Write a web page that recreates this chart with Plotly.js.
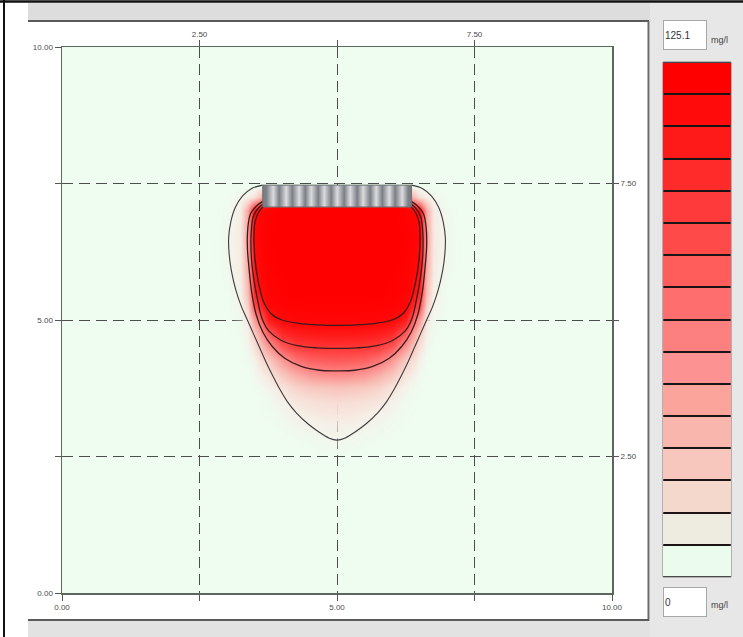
<!DOCTYPE html>
<html>
<head>
<meta charset="utf-8">
<script src="https://cdn.plot.ly/plotly-3.0.1.min.js"></script>
<style>
  html, body { margin: 0; padding: 0; background: #ffffff; }
  #plot { width: 743px; height: 637px; }
</style>
</head>
<body>
<div id="plot"></div>
<script>
// ---------------------------------------------------------------------------
// Concentration field (mg/l). The plume is symmetric about x = 5, so each row
// lists values from the plume axis outward at the offsets below.
// ---------------------------------------------------------------------------
const plumeAxis = 5;
const offsets = [0, 0.25, 0.5, 0.75, 1.0, 1.25, 1.5, 1.625, 1.75, 2.0, 2.25];
const rowY = [2.5, 2.75, 3.0, 3.25, 3.5, 3.75, 4.0, 4.25, 4.5, 4.75, 5.0, 5.25, 5.5, 6.0, 6.5, 7.0, 7.25, 7.45];
const conc_y2_50 = [0, 0, 0, 0, 0, 0, 0, 0, 0, 0, 0];
const conc_y2_75 = [2.5, 2, 1, 0, 0, 0, 0, 0, 0, 0, 0];
const conc_y3_00 = [5, 4.5, 3.5, 2.5, 1, 0, 0, 0, 0, 0, 0];
const conc_y3_25 = [9, 8.5, 7, 5, 2.5, 0.5, 0, 0, 0, 0, 0];
const conc_y3_50 = [16, 15, 13, 10, 5, 1.5, 0, 0, 0, 0, 0];
const conc_y3_75 = [28, 27, 25, 20, 12, 4, 0.5, 0, 0, 0, 0];
const conc_y4_00 = [52, 51, 47, 38, 26, 11, 2, 0, 0, 0, 0];
const conc_y4_25 = [72, 71, 69, 62, 46, 24, 5, 1, 0, 0, 0];
const conc_y4_50 = [86, 86, 85, 82, 72, 46, 12, 3, 0, 0, 0];
const conc_y4_75 = [100, 100, 99, 97, 92, 72, 24, 5, 1, 0, 0];
const conc_y5_00 = [114, 114, 113, 112, 108, 98, 46, 9, 2, 0, 0];
const conc_y5_25 = [121, 121, 121, 120, 118, 110, 78, 20, 4, 0, 0];
const conc_y5_50 = [125, 125, 125, 125, 123, 118, 95, 30, 6, 0, 0];
const conc_y6_00 = [125, 125, 125, 125, 125, 123, 106, 40, 8, 2, 0];
const conc_y6_50 = [125, 125, 125, 125, 125, 124, 112, 45, 9, 2, 0];
const conc_y7_00 = [125, 125, 125, 125, 125, 122, 108, 40, 8, 1, 0];
const conc_y7_25 = [125, 125, 125, 125, 125, 60, 12, 6, 3, 0, 0];
const conc_y7_45 = [0, 0, 0, 0, 0, 0, 0, 0, 0, 0, 0];
const concRows = [conc_y2_50, conc_y2_75, conc_y3_00, conc_y3_25, conc_y3_50, conc_y3_75,
  conc_y4_00, conc_y4_25, conc_y4_50, conc_y4_75, conc_y5_00, conc_y5_25, conc_y5_50,
  conc_y6_00, conc_y6_50, conc_y7_00, conc_y7_25, conc_y7_45];

// Isolines, left half from the source down to the plume axis
const iso1X = [3.65, 3.45, 3.28, 3.15, 3.07, 3.03, 3.04, 3.08, 3.16, 3.26, 3.37, 3.48, 3.59, 3.70, 3.82, 3.95, 4.10, 4.26, 4.47, 4.67, 4.85, 5.00];
const iso1Y = [7.47, 7.41, 7.27, 7.06, 6.80, 6.50, 6.20, 5.90, 5.55, 5.25, 5.00, 4.75, 4.50, 4.25, 4.00, 3.75, 3.50, 3.30, 3.10, 2.95, 2.84, 2.80];
const iso2X = [3.70, 3.55, 3.43, 3.38, 3.37, 3.40, 3.45, 3.53, 3.65, 3.82, 4.05, 4.35, 4.68, 5.00];
const iso2Y = [7.20, 7.10, 6.95, 6.70, 6.35, 5.95, 5.50, 5.10, 4.78, 4.52, 4.30, 4.15, 4.08, 4.07];
const iso3X = [3.70, 3.58, 3.48, 3.44, 3.44, 3.48, 3.55, 3.64, 3.76, 3.98, 4.28, 4.64, 5.00];
const iso3Y = [7.15, 7.06, 6.90, 6.60, 6.20, 5.80, 5.40, 5.02, 4.80, 4.63, 4.53, 4.49, 4.48];
const iso4X = [3.70, 3.59, 3.51, 3.49, 3.51, 3.57, 3.66, 3.80, 4.00, 4.30, 4.65, 5.00];
const iso4Y = [7.10, 7.00, 6.80, 6.50, 6.10, 5.70, 5.35, 5.12, 5.00, 4.94, 4.91, 4.90];

// Source strip
const sourceX = [3.65, 6.35];
const sourceY = [7.07, 7.47];

// Axis labels
const bottomTicks = [0, 2.5, 5, 7.5, 10];
const bottomLabels = ['0.00', '', '5.00', '', '10.00'];
const topTicks = [2.5, 5, 7.5];
const topLabels = ['2.50', '', '7.50'];

// Legend: colour classes, top (max) to bottom (min)
const legendMax = 125.1;
const legendMin = 0;
const legendUnit = 'mg/l';
const bandColors = ['#ff0000', '#ff0b0b', '#ff1a1a', '#ff2a2a', '#ff3a3a', '#ff4a4a', '#ff5c5c', '#fe6e6e',
  '#fd8080', '#fc9292', '#fba49c', '#f9b6ac', '#f7c6bc', '#f4d8cc', '#eeece0', '#ebfbee'];

// ---------------------------------------------------------------------------
const W = 743, H = 637;
const px = v => v / W;
const py = v => 1 - v / H;

const mirrorX = xs => xs.map(x => 2 * plumeAxis - x);
const fieldX = mirrorX(offsets.map(d => plumeAxis + d)).reverse()
  .concat(offsets.slice(1).map(d => plumeAxis + d));
const fieldZ = concRows.map(r => r.slice().reverse().concat(r.slice(1)));

function closedIso(xs, ys) {
  return {
    x: xs.concat(mirrorX(xs.slice(0, -1)).reverse()),
    y: ys.concat(ys.slice(0, -1).reverse())
  };
}

const fieldScale = [
  [0.00, 'rgba(244,240,234,0)'],
  [0.03, 'rgba(246,238,232,0.6)'],
  [0.08, 'rgba(247,228,220,0.92)'],
  [0.16, '#f7d4cc'],
  [0.28, '#f9b6ae'],
  [0.40, '#fb9290'],
  [0.52, '#fd6e6e'],
  [0.64, '#ff4646'],
  [0.76, '#ff2222'],
  [0.86, '#ff0a0a'],
  [1.00, '#ff0000']
];

const traces = [];

traces.push({
  type: 'heatmap', x: fieldX, y: rowY, z: fieldZ,
  zsmooth: 'best', zmin: legendMin, zmax: legendMax,
  colorscale: fieldScale, showscale: false, hoverinfo: 'skip'
});

const isoStyles = [
  { xs: iso1X, ys: iso1Y, color: '#3c3c3c', width: 1.1 },
  { xs: iso2X, ys: iso2Y, color: '#3a1c1c', width: 1.3 },
  { xs: iso3X, ys: iso3Y, color: '#3a1c1c', width: 1.3 },
  { xs: iso4X, ys: iso4Y, color: '#3a1c1c', width: 1.3 }
];
isoStyles.forEach(s => {
  const c = closedIso(s.xs, s.ys);
  traces.push({
    type: 'scatter', mode: 'lines', x: c.x, y: c.y,
    line: { color: s.color, width: s.width, shape: 'spline', smoothing: 1 },
    hoverinfo: 'skip', showlegend: false
  });
});

// Striped source block (drawn in the overlay subplot so it sits on top)
const stripeCells = 23;
const sw = (sourceX[1] - sourceX[0]) / stripeCells;
const stripeX = [];
const stripeRow = [];
for (let k = 0; k < stripeCells; k++) {
  stripeX.push(sourceX[0] + (k + 0.5) * sw);
  stripeRow.push(k % 2 ? 1 : 0);
}
const sh = (sourceY[1] - sourceY[0]) / 2;
traces.push({
  type: 'heatmap', x: stripeX, y: [sourceY[0] + sh / 2, sourceY[0] + 1.5 * sh],
  z: [stripeRow, stripeRow], zsmooth: 'best', zmin: 0, zmax: 1,
  colorscale: [[0, '#7b7f86'], [1, '#dcdcdf']], showscale: false,
  xaxis: 'x3', yaxis: 'y3', hoverinfo: 'skip'
});

// Legend bar
const bandsBottomUp = bandColors.slice().reverse();
const nb = bandsBottomUp.length;
const bandScale = [];
bandsBottomUp.forEach((c, i) => { bandScale.push([i / nb, c]); bandScale.push([(i + 1) / nb, c]); });
traces.push({
  type: 'heatmap', x: [0], y: bandsBottomUp.map((c, i) => i),
  z: bandsBottomUp.map((c, i) => [i + 0.5]), zmin: 0, zmax: nb,
  colorscale: bandScale, showscale: false, ygap: 2,
  xaxis: 'x2', yaxis: 'y2', hoverinfo: 'skip'
});

const tickFont = { family: 'Liberation Sans Narrow, Arial Narrow, sans-serif', size: 8, color: '#4a4a4a' };
const gridStyle = { showgrid: true, gridcolor: '#4d4d4d', gridwidth: 1, griddash: '11px,6px' };
const plotDomX = [px(62), px(612)];
const plotDomY = [py(593), py(47)];

const rectPx = (x0, y0, x1, y1, fill, layer) => ({
  type: 'rect', xref: 'paper', yref: 'paper', x0: px(x0), x1: px(x1), y0: py(y1), y1: py(y0),
  fillcolor: fill, line: { width: 0 }, layer: layer || 'below'
});
const linePx = (x0, y0, x1, y1, color, width) => ({
  type: 'line', xref: 'paper', yref: 'paper', x0: px(x0), x1: px(x1), y0: py(y0), y1: py(y1),
  line: { color: color, width: width }, layer: 'above'
});

const layout = {
  width: W, height: H,
  margin: { l: 0, r: 0, t: 0, b: 0 },
  paper_bgcolor: '#ffffff',
  plot_bgcolor: '#effdf0',
  showlegend: false,
  xaxis: Object.assign({
    domain: plotDomX, range: [0, 10], anchor: 'y', zeroline: false,
    showline: true, linecolor: '#5c665c', linewidth: 1.5, mirror: true,
    ticks: 'outside', ticklen: 6, tickcolor: '#555', tickwidth: 1,
    tickmode: 'array', tickvals: bottomTicks, ticktext: bottomLabels, tickfont: tickFont
  }, gridStyle),
  yaxis: Object.assign({
    domain: plotDomY, range: [0, 10], anchor: 'x', zeroline: false,
    showline: true, linecolor: '#5c665c', linewidth: 1.5, mirror: true,
    ticks: 'outside', ticklen: 6, tickcolor: '#555', tickwidth: 1,
    tickmode: 'array', tickvals: bottomTicks, ticktext: bottomLabels, tickfont: tickFont
  }, gridStyle),
  xaxis3: {
    overlaying: 'x', side: 'top', anchor: 'y3', range: [0, 10], showgrid: false, zeroline: false,
    ticks: 'outside', ticklen: 6, tickcolor: '#555', tickmode: 'array',
    tickvals: topTicks, ticktext: topLabels, tickfont: tickFont
  },
  yaxis3: {
    overlaying: 'y', side: 'right', anchor: 'x3', range: [0, 10], showgrid: false, zeroline: false,
    ticks: 'outside', ticklen: 6, tickcolor: '#555', tickmode: 'array',
    tickvals: topTicks, ticktext: topLabels, tickfont: tickFont
  },
  xaxis2: { domain: [px(663), px(731)], anchor: 'y2', range: [-0.5, 0.5], visible: false, fixedrange: true },
  yaxis2: { domain: [py(577), py(62)], anchor: 'x2', range: [-0.5, nb - 0.5], visible: false, fixedrange: true },
  shapes: [
    rectPx(28, 3, 650, 20, '#dddddd'),
    rectPx(650, 3, 743, 637, '#e7e7e7'),
    rectPx(28, 621, 650, 637, '#e2e2e2'),
    { type: 'rect', xref: 'x2 domain', yref: 'y2 domain', x0: 0, x1: 1, y0: 0, y1: 1,
      fillcolor: '#1c1414', line: { color: '#7a7a7a', width: 1 }, layer: 'below' },
    { type: 'rect', xref: 'x3', yref: 'y3', x0: sourceX[0], x1: sourceX[1], y0: sourceY[0], y1: sourceY[1],
      line: { color: '#6c6c6c', width: 1 }, fillcolor: 'rgba(0,0,0,0)', layer: 'above' },
    linePx(28, 21, 649, 21, '#5a5a5a', 2),
    linePx(648.5, 21, 648.5, 621, '#6a6a6a', 2),
    linePx(28, 620, 649, 620, '#5a5a5a', 2),
    linePx(0, 1.5, 743, 1.5, '#111111', 2.5),
    linePx(4, 0, 4, 637, '#111111', 2)
  ],
  annotations: [
    { xref: 'paper', yref: 'paper', x: px(685), y: py(35), xanchor: 'center', yanchor: 'middle',
      text: String(legendMax), showarrow: false, align: 'left', width: 40, height: 26, borderpad: 1,
      bgcolor: '#ffffff', bordercolor: '#a8a8a8', borderwidth: 1,
      font: { family: 'Liberation Sans Narrow, Arial Narrow, sans-serif', size: 10, color: '#333' } },
    { xref: 'paper', yref: 'paper', x: px(719), y: py(40), xanchor: 'center', yanchor: 'middle',
      text: legendUnit, showarrow: false,
      font: { family: 'Liberation Sans Narrow, Arial Narrow, sans-serif', size: 9, color: '#444' } },
    { xref: 'paper', yref: 'paper', x: px(685), y: py(602), xanchor: 'center', yanchor: 'middle',
      text: String(legendMin), showarrow: false, align: 'left', width: 40, height: 26, borderpad: 1,
      bgcolor: '#ffffff', bordercolor: '#a8a8a8', borderwidth: 1,
      font: { family: 'Liberation Sans Narrow, Arial Narrow, sans-serif', size: 10, color: '#333' } },
    { xref: 'paper', yref: 'paper', x: px(719), y: py(605), xanchor: 'center', yanchor: 'middle',
      text: legendUnit, showarrow: false,
      font: { family: 'Liberation Sans Narrow, Arial Narrow, sans-serif', size: 9, color: '#444' } }
  ]
};

Plotly.newPlot('plot', traces, layout, { staticPlot: true, displayModeBar: false });
</script>
</body>
</html>
